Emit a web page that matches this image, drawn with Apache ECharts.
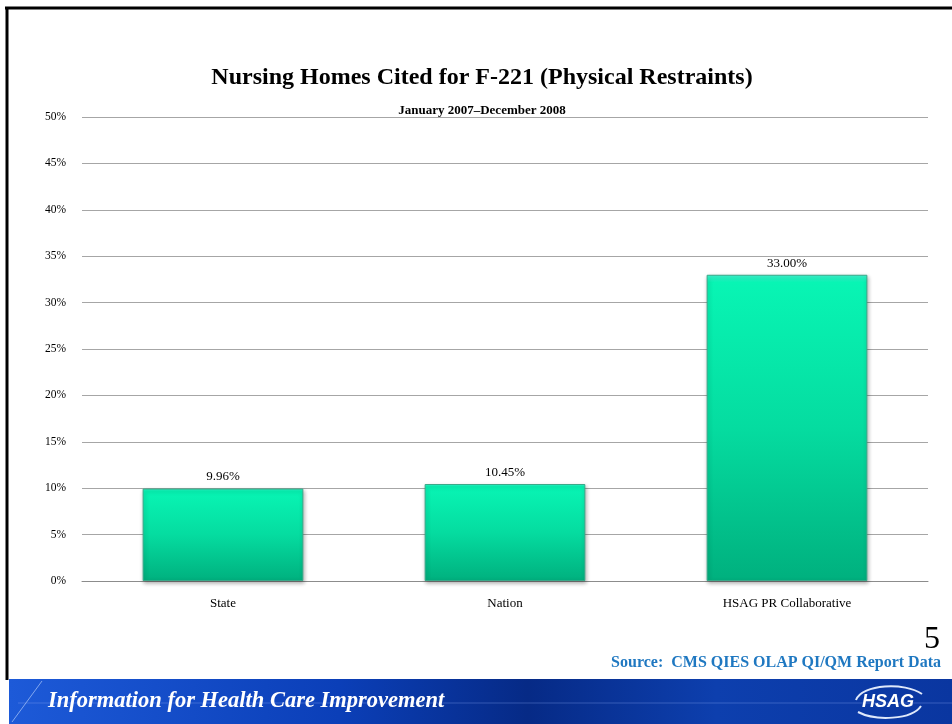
<!DOCTYPE html>
<html>
<head>
<meta charset="utf-8">
<script src="https://cdn.jsdelivr.net/npm/echarts@6/dist/echarts.min.js"></script>
<style>
  html, body { margin: 0; padding: 0; background: #fff; }
  #chart { width: 952px; height: 724px; }
</style>
</head>
<body>
<div id="chart"></div>
<script>
// data
var categories = ['State', 'Nation', 'HSAG PR Collaborative'];
var citedPct = [9.96, 10.45, 33.00];
var yTicks = [0, 5, 10, 15, 20, 25, 30, 35, 40, 45, 50];

var serif = '"Liberation Serif", "DejaVu Serif", serif';

var chart = echarts.init(document.getElementById('chart'));

chart.setOption({
  animation: false,
  title: {
    text: 'Nursing Homes Cited for F-221 (Physical Restraints)',
    subtext: 'January 2007\u2013December 2008',
    left: 477,
    textAlign: 'center',
    top: 61,
    itemGap: 14,
    textStyle: { fontFamily: serif, fontSize: 24, fontWeight: 'bold', color: '#000' },
    subtextStyle: { fontFamily: serif, fontSize: 13, fontWeight: 'bold', color: '#000' }
  },
  grid: { left: 82, right: 24, top: 117, bottom: 143 },
  xAxis: {
    type: 'category',
    data: categories,
    axisTick: { show: false },
    axisLine: { lineStyle: { color: '#8c8c8c', width: 1 } },
    axisLabel: { fontFamily: serif, fontSize: 13, color: '#000', margin: 16 }
  },
  yAxis: {
    type: 'value',
    min: yTicks[0],
    max: yTicks[yTicks.length - 1],
    interval: 5,
    axisLine: { show: false },
    axisTick: { show: false },
    splitLine: { lineStyle: { color: '#a6a6a6', width: 1 } },
    axisLabel: { fontFamily: serif, fontSize: 11.5, color: '#000', margin: 16, formatter: '{value}%' }
  },
  series: [{
    type: 'bar',
    data: citedPct,
    barWidth: '57%',
    itemStyle: {
      color: new echarts.graphic.LinearGradient(0, 0, 0, 1, [
        { offset: 0, color: '#3ff8d2' },
        { offset: 0.025, color: '#08f5b4' },
        { offset: 0.5, color: '#05dca0' },
        { offset: 1, color: '#00b07e' }
      ]),
      borderColor: '#3aa889',
      borderWidth: 1,
      shadowColor: 'rgba(0,0,0,0.3)',
      shadowBlur: 4,
      shadowOffsetX: 1,
      shadowOffsetY: 2
    },
    label: {
      show: true,
      position: 'top',
      distance: 5,
      fontFamily: serif,
      fontSize: 13,
      color: '#000',
      formatter: function (p) { return p.value.toFixed(2) + '%'; }
    }
  }],
  graphic: [
    // slide frame
    { type: 'line', shape: { x1: 5, y1: 8, x2: 952, y2: 8 }, style: { stroke: '#000', lineWidth: 3 } },
    { type: 'line', shape: { x1: 7, y1: 7, x2: 7, y2: 680 }, style: { stroke: '#000', lineWidth: 3 } },
    // page number and source
    { type: 'text', right: 12, top: 624, style: { text: '5', font: '32px ' + serif, fill: '#000' } },
    { type: 'text', right: 11, top: 655, style: { text: 'Source:  CMS QIES OLAP QI/QM Report Data', font: 'bold 16px ' + serif, fill: '#1f78c1' } },
    // footer banner
    {
      type: 'rect', shape: { x: 9, y: 679, width: 943, height: 45 },
      style: {
        fill: new echarts.graphic.LinearGradient(0, 0, 1, 0, [
          { offset: 0, color: '#1d5ad8' },
          { offset: 0.35, color: '#0b3fb8' },
          { offset: 0.55, color: '#062a86' },
          { offset: 0.75, color: '#0d3fae' },
          { offset: 1, color: '#0a36a0' }
        ])
      }
    },
    { type: 'line', shape: { x1: 12, y1: 722, x2: 42, y2: 681 }, style: { stroke: 'rgba(200,220,255,0.6)', lineWidth: 1 } },
    { type: 'line', shape: { x1: 18, y1: 703, x2: 952, y2: 703 }, style: { stroke: 'rgba(140,170,240,0.35)', lineWidth: 1 } },
    { type: 'text', left: 48, top: 690, style: { text: 'Information for Health Care Improvement', font: 'italic bold 22.5px ' + serif, fill: '#fff' } },
    { type: 'bezierCurve', shape: { x1: 856, y1: 700, cpx1: 862, cpy1: 684, cpx2: 905, cpy2: 682, x2: 922, y2: 694 }, style: { fill: 'none', stroke: 'rgba(235,242,255,0.95)', lineWidth: 2 } },
    { type: 'bezierCurve', shape: { x1: 858, y1: 712, cpx1: 875, cpy1: 721, cpx2: 912, cpy2: 720, x2: 921, y2: 706 }, style: { fill: 'none', stroke: 'rgba(235,242,255,0.95)', lineWidth: 2 } },
    { type: 'text', left: 862, top: 693, style: { text: 'HSAG', font: 'italic bold 18px "Liberation Sans", Arial, sans-serif', fill: '#fff' } }
  ]
});
</script>
</body>
</html>
